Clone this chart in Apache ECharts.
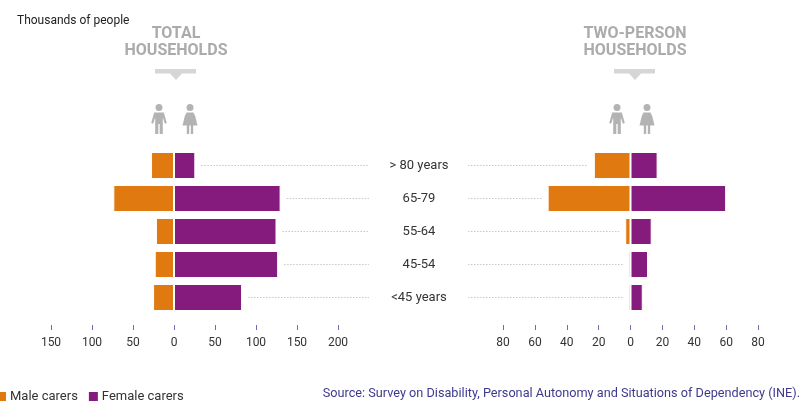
<!DOCTYPE html>
<html>
<head>
<meta charset="utf-8">
<script src="https://cdn.jsdelivr.net/npm/echarts@6/dist/echarts.min.js"></script>
<style>
  html, body { margin: 0; padding: 0; background: #fff; }
  #chart { width: 800px; height: 404px; }
</style>
</head>
<body>
<div id="chart"></div>
<script>
// age groups, top to bottom
var ageGroups = ['> 80 years', '65-79', '55-64', '45-54', '<45 years'];

// thousands of people, total households
var totalMale = [28, 74, 22, 23.5, 25.5];
var totalFemale = [26, 130, 125, 127, 83];

// thousands of people, two-person households
var twoMale = [23, 52, 3.3, 1.2, 1.2];
var twoFemale = [17, 60, 13.3, 11, 7.7];

var totalTicks = { min: -150, max: 200, interval: 50 };
var twoTicks = { min: -80, max: 80, interval: 20 };

var FONT = 'Roboto, "Liberation Sans", sans-serif';
var ORANGE = '#e07a10';
var PURPLE = '#851c7d';
var GREY_TITLE = '#ababab';
var GREY_ICON = '#b3b3b3';

var myChart = echarts.init(document.getElementById('chart'));

function neg(arr) {
	return arr.map(function (v) { return -v; });
}

// dotted leader line from the bar end towards the age label
function leaderLeft(params, api) {
	var pt = api.coord([api.value(0), api.value(1)]);
	var cs = params.coordSys;
	return {
		type: 'line',
		shape: { x1: pt[0] + 6, y1: pt[1], x2: cs.x + cs.width + 31, y2: pt[1] },
		style: { stroke: '#c8c8c8', lineWidth: 1, lineDash: [1.5, 1.5] }
	};
}
function leaderRight(params, api) {
	var pt = api.coord([api.value(0), api.value(1)]);
	var cs = params.coordSys;
	return {
		type: 'line',
		shape: { x1: cs.x - 35, y1: pt[1], x2: pt[0] - 6, y2: pt[1] },
		style: { stroke: '#c8c8c8', lineWidth: 1, lineDash: [1.5, 1.5] }
	};
}

function leaderData(values) {
	return values.map(function (v, i) { return [v, ageGroups[i]]; });
}

function xAxisFor(t, idx) {
	return {
		type: 'value',
		gridIndex: idx,
		min: t.min,
		max: t.max,
		interval: t.interval,
		offset: 11,
		axisLine: { show: false },
		axisTick: { show: true, length: 5, lineStyle: { color: '#7468bd', width: 1 } },
		splitLine: { show: false },
		axisLabel: {
			margin: 12,
			color: '#333',
			fontSize: 12,
			fontFamily: FONT,
			formatter: function (v) { return Math.abs(v); }
		}
	};
}

// simple pictograms (man / woman), x = centre, y = top of head
function man(x, y) {
	return {
		type: 'group', x: x, y: y,
		children: [
			{ type: 'circle', shape: { cx: 0, cy: 3.6, r: 3.5 }, style: { fill: GREY_ICON } },
			{ type: 'polygon', shape: { points: [[-4.8, 8.5], [4.8, 8.5], [7.8, 19], [5.9, 19.8], [3.8, 13.5], [3.8, 30], [0.7, 30], [0.7, 20], [-0.7, 20], [-0.7, 30], [-3.8, 30], [-3.8, 13.5], [-5.9, 19.8], [-7.8, 19]] }, style: { fill: GREY_ICON } }
		]
	};
}
function woman(x, y) {
	return {
		type: 'group', x: x, y: y,
		children: [
			{ type: 'circle', shape: { cx: 0, cy: 3.6, r: 3.5 }, style: { fill: GREY_ICON } },
			{ type: 'polygon', shape: { points: [[-3.4, 8.5], [3.4, 8.5], [5.2, 12], [7.5, 21.5], [-7.5, 21.5], [-5.2, 12]] }, style: { fill: GREY_ICON } },
			{ type: 'rect', shape: { x: -3.2, y: 21, width: 2.4, height: 9 }, style: { fill: GREY_ICON } },
			{ type: 'rect', shape: { x: 0.8, y: 21, width: 2.4, height: 9 }, style: { fill: GREY_ICON } }
		]
	};
}
function arrow(cx) {
	return {
		type: 'polygon',
		shape: { points: [[cx - 21, 69], [cx + 20, 69], [cx + 20, 73.5], [cx + 6, 73.5], [cx, 80], [cx - 6, 73.5], [cx - 21, 73.5]] },
		style: { fill: '#d6d6d6' }
	};
}
function titleText(x, y, txt) {
	return {
		type: 'text', x: x, y: y,
		style: { text: txt, align: 'center', verticalAlign: 'middle', fill: GREY_TITLE, font: 'bold 16px ' + FONT }
	};
}

var barStyle = function (c) {
	return { color: c, borderColor: '#fff', borderWidth: 1 };
};

var option = {
	animation: false,
	textStyle: { fontFamily: FONT },
	grid: [
		{ left: 51, width: 287, top: 149, height: 165 },
		{ left: 503, width: 255, top: 149, height: 165 }
	],
	xAxis: [xAxisFor(totalTicks, 0), xAxisFor(twoTicks, 1)],
	yAxis: [
		{
			type: 'category', gridIndex: 0, data: ageGroups, inverse: true,
			axisLine: { show: false }, axisTick: { show: false }, axisLabel: { show: false }
		},
		{
			type: 'category', gridIndex: 1, data: ageGroups, inverse: true,
			axisLine: { show: false }, axisTick: { show: false },
			axisLabel: { align: 'center', margin: 84, color: '#333', fontSize: 13, fontFamily: FONT }
		}
	],
	legend: {
		left: -10,
		top: 385,
		itemWidth: 11,
		itemHeight: 11,
		itemGap: 9,
		icon: 'rect',
		data: ['Male carers', 'Female carers'],
		textStyle: { color: '#333', fontSize: 13, fontFamily: FONT, padding: [0, 0, 0, -2] }
	},
	series: [
		{ name: 'Male carers', type: 'bar', xAxisIndex: 0, yAxisIndex: 0, data: neg(totalMale), barWidth: 27, barGap: '-100%', itemStyle: barStyle(ORANGE) },
		{ name: 'Female carers', type: 'bar', xAxisIndex: 0, yAxisIndex: 0, data: totalFemale, barWidth: 27, barGap: '-100%', itemStyle: barStyle(PURPLE) },
		{ name: 'Male carers', type: 'bar', xAxisIndex: 1, yAxisIndex: 1, data: neg(twoMale), barWidth: 27, barGap: '-100%', itemStyle: barStyle(ORANGE) },
		{ name: 'Female carers', type: 'bar', xAxisIndex: 1, yAxisIndex: 1, data: twoFemale, barWidth: 27, barGap: '-100%', itemStyle: barStyle(PURPLE) },
		{ type: 'custom', xAxisIndex: 0, yAxisIndex: 0, renderItem: leaderLeft, data: leaderData(totalFemale), encode: { x: 0, y: 1 }, silent: true, z: 1 },
		{ type: 'custom', xAxisIndex: 1, yAxisIndex: 1, renderItem: leaderRight, data: leaderData(neg(twoMale)), encode: { x: 0, y: 1 }, silent: true, z: 1 }
	],
	graphic: [
		{ type: 'text', x: 17, y: 21, style: { text: 'Thousands of people', verticalAlign: 'middle', fill: '#222', font: '12px ' + FONT } },
		titleText(176, 34, 'TOTAL'),
		titleText(176, 51, 'HOUSEHOLDS'),
		titleText(635, 34, 'TWO-PERSON'),
		titleText(635, 51, 'HOUSEHOLDS'),
		arrow(176),
		arrow(635),
		man(159, 104),
		woman(190, 104),
		man(617, 104),
		woman(647, 104),
		{ type: 'text', right: 0, y: 394, style: { text: 'Source: Survey on Disability, Personal Autonomy and Situations of Dependency (INE).', verticalAlign: 'middle', fill: '#3d3a8e', font: '12.7px ' + FONT } }
	]
};

myChart.setOption(option);
</script>
</body>
</html>
